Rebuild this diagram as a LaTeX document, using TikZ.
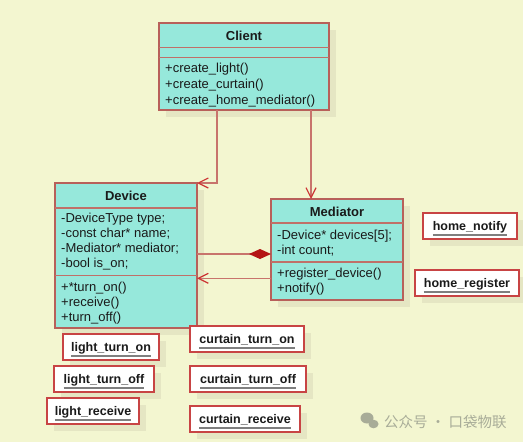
\documentclass[tikz,border=0pt]{standalone}
\usepackage{fontspec}
\setmainfont{Liberation Sans}
\newfontfamily\cjk{Noto Sans CJK SC}
\usetikzlibrary{arrows.meta,shadows}
\definecolor{bgc}{HTML}{F3F6D0}
\definecolor{boxfill}{HTML}{96E8DB}
\definecolor{boxline}{HTML}{B8605A}
\definecolor{sepline}{HTML}{C07068}
\definecolor{connc}{HTML}{C8746C}
\definecolor{arrowred}{HTML}{CC3333}
\definecolor{diamc}{HTML}{B41414}
\definecolor{labred}{HTML}{C84444}
\definecolor{shadowc}{HTML}{E5E6C3}
\definecolor{ulc}{HTML}{7F7F7F}
\definecolor{txtc}{HTML}{1A1A1A}
\definecolor{wmc}{HTML}{A8AC98}
\newcommand\ulabel[1]{\sbox0{#1}\rlap{\usebox0}{\color{ulc}\rule[-5pt]{\wd0}{2pt}}}
\begin{document}
\begin{tikzpicture}[x=1pt,y=-1pt,
  cls/.style={draw=boxline,fill=boxfill,line width=1.5pt,inner sep=0pt,outer sep=0pt,
    drop shadow={shadow xshift=7pt,shadow yshift=-7pt,fill=shadowc,opacity=1}},
  sep/.style={draw=sepline,line width=1.5pt},
  ttl/.style={anchor=base,inner sep=0pt,text=txtc,font=\fontsize{13}{15}\selectfont\bfseries},
  mem/.style={anchor=base west,inner sep=0pt,text=txtc,font=\fontsize{13}{15}\selectfont},
  lbl/.style={draw=labred,fill=white,line width=2pt,inner sep=0pt,outer sep=0pt,
    minimum height=26pt,
    text=txtc,font=\fontsize{12.5}{15}\selectfont\bfseries,text height=9pt,text depth=0pt,
    drop shadow={shadow xshift=7pt,shadow yshift=-7pt,fill=shadowc,opacity=1}},
  conn/.style={draw=connc,line width=1.5pt},
  openarr/.style={-{Straight Barb[length=10pt,width=10pt,line width=1.2pt,color=arrowred]}},
  diam/.style={-{Diamond[length=22pt,width=10pt,fill=diamc,color=diamc]}},
  wm/.style={anchor=west,inner sep=0pt,text=wmc,font=\fontsize{14.5}{17}\selectfont\cjk}
]
\fill[bgc] (0,0) rectangle (523,442);
\useasboundingbox (0,0) rectangle (523,442);

% Client
\node[cls,minimum width=170pt,minimum height=87pt] (client) at (244,66.5) {};
\draw[sep] (159,47.5) -- (329,47.5);
\draw[sep] (159,57.5) -- (329,57.5);
\node[ttl] (clientT) at (244,40) {Client};
\node[mem] (c1) at (165,72.5) {+create\_light()};
\node[mem] (c2) at (165,88.5) {+create\_curtain()};
\node[mem] (c3) at (165,104.5) {+create\_home\_mediator()};

% Device
\node[cls,minimum width=142pt,minimum height=145pt] (device) at (126,255.5) {};
\draw[sep] (55,208) -- (197,208);
\draw[sep] (55,275.5) -- (197,275.5);
\node[ttl] (deviceT) at (126,200) {Device};
\node[mem] (d1) at (61,222.5) {-DeviceType type;};
\node[mem] (d2) at (61,237.5) {-const char* name;};
\node[mem] (d3) at (61,252.5) {-Mediator* mediator;};
\node[mem] (d4) at (61,267.5) {-bool is\_on;};
\node[mem] (d5) at (61,291.5) {+*turn\_on()};
\node[mem] (d6) at (61,306.5) {+receive()};
\node[mem] (d7) at (61,321.5) {+turn\_off()};

% Mediator
\node[cls,minimum width=132pt,minimum height=101pt] (mediator) at (337,249.5) {};
\draw[sep] (271,223) -- (403,223);
\draw[sep] (271,262) -- (403,262);
\node[ttl] (mediatorT) at (337,216) {Mediator};
\node[mem] (m1) at (277,239.5) {-Device* devices[5];};
\node[mem] (m2) at (277,254.5) {-int count;};
\node[mem] (m3) at (277,277.8) {+register\_device()};
\node[mem] (m4) at (277,292.8) {+notify()};

% Connectors
\draw[conn,openarr] ([xshift=-27pt]client.south) |- (device.north east);
\draw[conn,openarr] ([xshift=67pt]client.south) -- ([xshift=-26pt]mediator.north);
\coordinate (dm) at ([yshift=1.5pt]device.east);
\draw[conn,diam] (dm) -- (dm -| mediator.west);
\coordinate (md) at ([yshift=-28.8pt]mediator.west);
\draw[conn,openarr] (md) -- (md -| device.east);

% Labels
\node[lbl,minimum width=96pt] (lton) at (111,347) {\ulabel{light\_turn\_on}};
\node[lbl,minimum width=100pt] (ltoff) at (104,379) {\ulabel{light\_turn\_off}};
\node[lbl,minimum width=92pt] (lrec) at (93,411) {\ulabel{light\_receive}};
\node[lbl,minimum width=114pt] (cton) at (247,339) {\ulabel{curtain\_turn\_on}};
\node[lbl,minimum width=116pt] (ctoff) at (248,379) {\ulabel{curtain\_turn\_off}};
\node[lbl,minimum width=110pt] (crec) at (245,419) {\ulabel{curtain\_receive}};
\node[lbl,minimum width=94pt] (hnot) at (470,226) {\ulabel{home\_notify}};
\node[lbl,minimum width=104pt] (hreg) at (467,283) {\ulabel{home\_register}};

% Watermark
\fill[wmc] (367,418) ellipse (6.5 and 5.5);
\fill[wmc] (373.5,424) ellipse (5 and 4.3);
\node[wm] (wmark) at (384,421.7) {公众号 · 口袋物联};
\end{tikzpicture}
\end{document}
